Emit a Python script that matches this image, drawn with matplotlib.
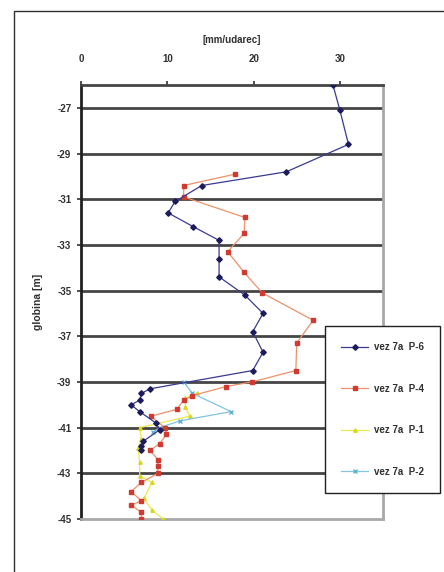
import matplotlib
matplotlib.use("Agg")
import matplotlib.pyplot as plt
from matplotlib.patches import Rectangle

plt.rcParams['font.family'] = ['Liberation Sans', 'DejaVu Sans']

# ---- data (x = mm/udarec, y = globina [m]) ----
p6_x = [29.2, 30.0, 31.0, 23.8, 14.0, 10.9, 10.1, 13.0, 16.0, 16.0, 16.0, 19.0,
        21.1, 19.9, 21.1, 19.9, 8.0, 7.0, 6.8, 5.8, 6.8, 8.7, 9.1, 7.2, 7.0, 7.0]
p6_y = [-26.0, -27.1, -28.6, -29.8, -30.4, -31.1, -31.6, -32.2, -32.8, -33.6, -34.4, -35.2,
        -36.0, -36.8, -37.7, -38.5, -39.3, -39.5, -39.8, -40.0, -40.3, -40.8, -41.1, -41.6, -41.8, -42.0]

p4_x = [17.9, 11.9, 11.9, 19.0, 18.9, 17.0, 18.9, 21.0, 26.9, 25.0, 24.9, 19.8, 16.8,
        12.9, 11.9, 11.1, 8.1, 9.7, 9.9, 9.1, 8.0, 8.9, 8.9, 8.9, 7.0, 5.8, 7.0, 5.8, 7.0, 7.0]
p4_y = [-29.9, -30.4, -30.9, -31.8, -32.5, -33.3, -34.2, -35.1, -36.3, -37.3, -38.5, -39.0, -39.2,
        -39.6, -39.8, -40.2, -40.5, -41.0, -41.3, -41.7, -42.0, -42.4, -42.7, -43.0, -43.4, -43.8, -44.2, -44.4, -44.7, -45.0]

p1_x = [13.4, 12.1, 12.1, 12.6, 6.8, 7.0, 6.6, 6.8, 6.8, 8.2, 7.3, 8.2, 9.5]
p1_y = [-39.5, -39.7, -40.1, -40.5, -41.0, -41.5, -41.9, -42.5, -43.1, -43.4, -44.1, -44.6, -45.0]

p2_x = [11.9, 12.9, 17.4, 11.5, 9.1, 8.4]
p2_y = [-39.0, -39.5, -40.3, -40.7, -41.0, -41.2]

labels = ['vez 7a  P-6', 'vez 7a  P-4', 'vez 7a  P-1', 'vez 7a  P-2']
x_ticks = [0, 10, 20, 30]
y_ticks = [-27, -29, -31, -33, -35, -37, -39, -41, -43, -45]

W, H = 444, 572
fig = plt.figure(figsize=(W / 100, H / 100), dpi=100)
fig.patch.set_facecolor('white')

# outer frame (clipped at right / bottom)
fig.patches.append(Rectangle((14 / W, -0.1), 1.2, 1 - 11 / H + 0.1, transform=fig.transFigure,
                             fill=False, edgecolor='#303030', linewidth=1.0))

ax = fig.add_axes([81 / W, 1 - 519 / H, (383 - 81) / W, (519 - 85) / H])

ax.plot(p6_x, p6_y, color='#3a3a90', lw=0.9, marker='D', ms=2.8,
        mfc='#1c1c5c', mec='#1c1c5c', label=labels[0], zorder=5)
ax.plot(p4_x, p4_y, color='#f0906a', lw=0.9, marker='s', ms=2.3,
        mfc='#d03a30', mec='#d03a30', label=labels[1], zorder=4)
ax.plot(p1_x, p1_y, color='#e8e850', lw=0.9, marker='^', ms=2.5,
        mfc='#d8d820', mec='#d8d820', label=labels[2], zorder=3)
ax.plot(p2_x, p2_y, color='#80c4e0', lw=0.9, marker='x', ms=2.2,
        mfc='#60b0d0', mec='#60b0d0', label=labels[3], zorder=3)

ax.set_xlim(0, 35)
ax.set_ylim(-45, -26)
ax.xaxis.tick_top()
ax.xaxis.set_label_position('top')
ax.set_xticks(x_ticks)
ax.set_yticks(y_ticks)
ax.set_yticklabels([str(v) for v in y_ticks])
ax.tick_params(axis='both', labelsize=7, colors='#303030', length=3, width=1.2)
ax.tick_params(axis='x', pad=12)
ax.tick_params(axis='y', pad=4)
for t in ax.get_xticklabels() + ax.get_yticklabels():
    t.set_fontweight('bold')

for yv in y_ticks[:-1]:
    ax.axhline(yv, color='#454545', lw=2.0, zorder=1)

ax.spines['left'].set_color('#202020')
ax.spines['left'].set_linewidth(2.0)
ax.spines['top'].set_color('#454545')
ax.spines['top'].set_linewidth(2.0)
ax.spines['right'].set_color('#a8a8a8')
ax.spines['right'].set_linewidth(2.0)
ax.spines['bottom'].set_color('#a8a8a8')
ax.spines['bottom'].set_linewidth(2.0)

ax.set_xlabel('[mm/udarec]', fontsize=7, color='#303030', labelpad=8, fontweight='bold')
ax.set_ylabel('globina [m]', fontsize=7.5, color='#303030', labelpad=10, fontweight='bold')

leg = fig.legend(loc='upper left', bbox_to_anchor=(325 / W, 1 - 326 / H),
                 bbox_transform=fig.transFigure, fontsize=7, frameon=True,
                 fancybox=False, shadow=False, framealpha=1.0, edgecolor='#202020',
                 borderpad=1.65, labelspacing=3.25, handlelength=2.8, handletextpad=0.6,
                 borderaxespad=0.0)
leg.get_frame().set_linewidth(1.0)
for t in leg.get_texts():
    t.set_color('#303030')
    t.set_fontweight('bold')

fig.savefig('out.png', dpi=100)
